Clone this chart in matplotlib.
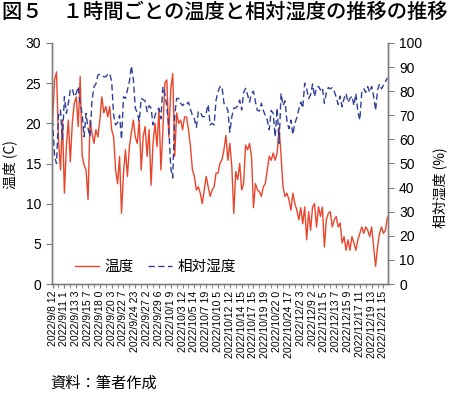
import matplotlib
matplotlib.use("Agg")
import matplotlib.pyplot as plt
from matplotlib.ticker import FixedLocator, FixedFormatter

plt.rcParams['font.family'] = ['Liberation Sans', 'Noto Sans CJK JP', 'DejaVu Sans']

# X tick labels (one every 6 points)
tick_labels = [
    "2022/9/8 12", "2022/9/11 1", "2022/9/13 3", "2022/9/15 7", "2022/9/18 0",
    "2022/9/20 3", "2022/9/22 7", "2022/9/24 23", "2022/9/27 2", "2022/9/29 6",
    "2022/10/1 9", "2022/10/3 12", "2022/10/5 14", "2022/10/7 19", "2022/10/10 5",
    "2022/10/12 12", "2022/10/14 15", "2022/10/17 15", "2022/10/19 19", "2022/10/22 0",
    "2022/10/24 17", "2022/12/2 3", "2022/12/9 2", "2022/12/11 5", "2022/12/13 7",
    "2022/12/15 9", "2022/12/17 11", "2022/12/19 13", "2022/12/21 15",
]

# Temperature (C), left axis
temperature = [
    20.4, 25.4, 26.4, 17.9, 14.2, 20.4, 11.3, 17.1, 20.4, 15.2,
    20.0, 22.5, 23.3, 19.6, 25.8, 16.0, 14.8, 14.2, 10.5, 20.4,
    18.8, 17.5, 19.2, 18.3, 20.4, 23.3, 21.3, 22.1, 20.8, 22.1,
    19.2, 18.3, 14.2, 12.5, 15.9, 8.8, 13.8, 16.7, 13.4, 17.1,
    18.8, 20.4, 18.3, 17.5, 20.4, 14.2, 18.3, 19.6, 15.9, 19.2,
    12.3, 17.5, 20.0, 17.1, 21.7, 14.2, 19.2, 25.0, 25.4, 18.3,
    24.2, 26.2, 15.9, 21.3, 20.0, 20.4, 19.2, 20.8, 20.8, 19.2,
    17.1, 14.2, 13.4, 11.7, 12.1, 11.3, 10.0, 11.7, 13.4, 12.1,
    10.9, 11.7, 12.1, 13.8, 13.8, 15.0, 15.5, 16.7, 18.5, 15.4,
    17.5, 14.6, 8.8, 14.0, 13.0, 15.0, 11.7, 12.5, 17.3, 16.7,
    17.5, 15.9, 9.5, 12.5, 11.7, 11.5, 10.9, 12.1, 12.5, 14.2,
    15.9, 15.4, 16.3, 15.4, 16.3, 19.5, 16.0, 12.1, 10.9, 11.3,
    10.5, 9.2, 11.3, 10.0, 9.2, 8.0, 9.5, 7.5, 9.6, 5.5,
    9.0, 6.7, 9.6, 10.0, 7.1, 9.6, 8.4, 9.6, 4.6, 8.0,
    8.8, 9.0, 7.1, 8.0, 8.4, 7.1, 7.6, 5.1, 5.9, 4.2,
    5.5, 4.2, 5.9, 5.1, 4.2, 5.5, 6.3, 7.1, 6.3, 7.1,
    6.7, 5.9, 7.1, 4.6, 2.2, 4.6, 6.3, 7.1, 6.3, 6.7,
    8.3,
]

# Relative humidity (%), right axis
humidity = [
    68.0, 52.8, 50.0, 70.0, 72.2, 60.0, 77.7, 70.8, 75.0, 80.5,
    81.2, 77.7, 79.0, 81.9, 75.0, 70.8, 61.1, 70.8, 64.5, 61.1,
    76.0, 81.9, 83.0, 86.7, 87.0, 86.7, 86.0, 86.0, 87.0, 87.4,
    84.0, 70.0, 66.0, 67.0, 70.0, 60.0, 77.7, 77.0, 80.5, 84.0,
    90.5, 85.0, 73.0, 71.0, 67.5, 77.0, 76.5, 76.0, 71.5, 74.0,
    73.0, 66.0, 70.0, 72.0, 73.0, 68.5, 81.9, 79.0, 73.6, 65.0,
    48.0, 44.0, 70.0, 77.0, 77.0, 75.0, 74.0, 75.0, 74.5, 75.5,
    72.5, 70.0, 68.5, 65.0, 71.5, 71.5, 69.5, 69.4, 71.0, 74.5,
    66.0, 66.7, 66.0, 76.3, 79.8, 81.9, 82.0, 75.0, 74.0, 72.0,
    63.0, 69.4, 73.0, 73.0, 74.0, 76.3, 72.2, 79.5, 81.2, 78.5,
    75.5, 79.1, 80.0, 75.5, 72.0, 71.8, 75.0, 72.0, 70.0, 68.0,
    64.0, 72.0, 70.8, 61.1, 73.0, 58.4, 79.1, 74.0, 76.0, 67.5,
    64.5, 68.0, 62.0, 66.7, 69.0, 72.5, 75.5, 73.0, 83.3, 81.0,
    77.0, 78.5, 83.0, 77.7, 81.5, 82.0, 80.5, 81.5, 75.0, 79.5,
    81.5, 81.0, 81.5, 80.0, 77.5, 74.5, 78.0, 73.5, 77.0, 79.1,
    75.3, 77.0, 78.0, 74.0, 79.0, 71.5, 68.0, 80.0, 81.0, 79.5,
    81.9, 79.5, 82.0, 78.0, 72.0, 80.5, 83.0, 81.0, 82.5, 84.0,
    85.5,
]

label_step = 6
x = list(range(len(temperature)))

fig = plt.figure(figsize=(4.5, 3.93), dpi=100)
ax = fig.add_axes([52/450, 1-284/393, (388-52)/450, (284-43)/393])
ax2 = ax.twinx()

red = '#E8452B'
blue = '#2F3F9A'
l1, = ax.plot(x, temperature, color=red, lw=1.0, label='温度')
l2, = ax2.plot(x, humidity, color=blue, lw=1.0, ls=(0, (4.5, 2.5)), label='相対湿度')

n = len(temperature)
ax.set_xlim(-0.3, n - 0.7)
ax.set_ylim(0, 30)
ax2.set_ylim(0, 100)
ax.set_yticks(range(0, 31, 5))
ax2.set_yticks(range(0, 101, 10))

major_pos = [i * label_step for i in range(len(tick_labels))]
ax.xaxis.set_major_locator(FixedLocator(major_pos))
ax.xaxis.set_major_formatter(FixedFormatter(tick_labels))
minor_pos = [p + label_step // 2 for p in major_pos]
ax.xaxis.set_minor_locator(FixedLocator(minor_pos))

spine_col = '#7f7f7f'
for a in (ax, ax2):
    for s in a.spines.values():
        s.set_color(spine_col)
        s.set_linewidth(1.0)
    a.spines['top'].set_visible(False)

ax.tick_params(axis='x', which='both', direction='out', length=3, color=spine_col,
               labelsize=7.6, labelrotation=90, pad=2)
ax.tick_params(axis='y', direction='out', length=4, color=spine_col, labelsize=10, pad=4)
ax2.tick_params(axis='y', direction='out', length=4, color=spine_col, labelsize=10, pad=4)

fig.text(2/450, 1-12/393, '図５　１時間ごとの温度と相対湿度の推移の推移',
         fontsize=14.6, family=['Noto Sans CJK JP'], fontweight='medium', va='center', ha='left')
fig.text(10/450, 1-165/393, '温度 (C)', rotation=90, fontsize=10,
         family=['Noto Sans CJK JP'], va='center', ha='center')
fig.text(440/450, 1-188/393, '相対湿度 (%)', rotation=90, fontsize=10,
         family=['Noto Sans CJK JP'], va='center', ha='center')
fig.text(50/450, 1-383/393, '資料：筆者作成', fontsize=11,
         family=['Noto Sans CJK JP'], va='center', ha='left')

leg = ax.legend(handles=[l1, l2], loc='center left', bbox_to_anchor=(0.03, 0.07),
                ncol=2, frameon=False, handlelength=1.6, columnspacing=1.0,
                handletextpad=0.4, prop={'family': 'Noto Sans CJK JP', 'size': 10.5})

fig.savefig('out.png', dpi=100)
